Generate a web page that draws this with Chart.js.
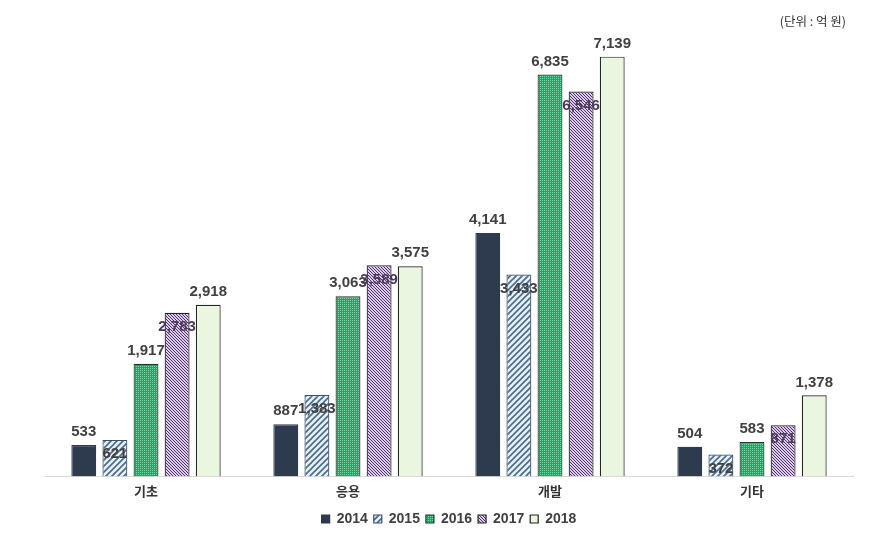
<!DOCTYPE html>
<html>
<head>
<meta charset="utf-8">
<script src="https://cdn.jsdelivr.net/npm/chart.js@4"></script>
<style>
    html, body { margin: 0; padding: 0; background: #fff; }
    #wrap { position: relative; width: 870px; height: 536px; }
    #unit {
        position: absolute; right: 24px; top: 11px;
        font: 12.5px "Noto Sans CJK KR", sans-serif; color: #333;
    }
</style>
</head>
<body>
<div id="wrap">
    <canvas id="rdChart" width="870" height="536"></canvas>
    <div id="unit">(단위 : 억 원)</div>
</div>
<script>
// Data (단위: 억 원)
const categories = ['기초', '응용', '개발', '기타'];
const years = ['2014', '2015', '2016', '2017', '2018'];
const v2014 = [533, 887, 4141, 504];
const v2015 = [621, 1383, 3433, 372];
const v2016 = [1917, 3063, 6835, 583];
const v2017 = [2783, 3589, 6546, 871];
const v2018 = [2918, 3575, 7139, 1378];

// Pattern helpers
function makePattern(w, h, draw) {
    const c = document.createElement('canvas');
    c.width = w;
    c.height = h;
    const g = c.getContext('2d');
    draw(g);
    return c.getContext('2d').createPattern(c, 'repeat');
}

const hatchBlue = makePattern(6, 6, g => {
    g.fillStyle = '#e4f1fa';
    g.fillRect(0, 0, 6, 6);
    g.strokeStyle = '#4b6a88';
    g.lineWidth = 1.6;
    g.beginPath();
    g.moveTo(-1, 7); g.lineTo(7, -1);
    g.moveTo(-4, 4); g.lineTo(4, -4);
    g.moveTo(2, 10); g.lineTo(10, 2);
    g.stroke();
});

const dotGreen = makePattern(2, 2, g => {
    g.fillStyle = '#1fa565';
    g.fillRect(0, 0, 2, 2);
    g.fillStyle = '#7cd6a6';
    g.fillRect(0, 0, 1, 1);
});

const hatchPurple = makePattern(3, 3, g => {
    g.fillStyle = '#dccbe9';
    g.fillRect(0, 0, 3, 3);
    g.fillStyle = '#4e3468';
    g.fillRect(0, 0, 1, 1);
    g.fillRect(1, 1, 1, 1);
    g.fillRect(2, 2, 1, 1);
});

const fills = ['#2e3a4d', hatchBlue, dotGreen, hatchPurple, '#eaf6e0'];
const borders = ['#2e3a4d', '#3d4f63', '#1e3a2c', '#222', '#222'];
const series = [v2014, v2015, v2016, v2017, v2018];

// value labels: 2015 / 2017 sit just inside the bar top, others above
const valueLabels = {
    id: 'valueLabels',
    afterDatasetsDraw(chart) {
        const ctx = chart.ctx;
        ctx.save();
        ctx.font = 'bold 15px "Liberation Sans", Arial, sans-serif';
        ctx.textAlign = 'center';
        ctx.textBaseline = 'middle';
        chart.data.datasets.forEach((ds, i) => {
            const meta = chart.getDatasetMeta(i);
            meta.data.forEach((bar, j) => {
                const inside = (i === 1 || i === 3);
                const y = inside ? bar.y + 14 : bar.y - 13;
                ctx.fillStyle = i === 3 ? '#4a3a58' : '#404040';
                ctx.fillText(ds.data[j].toLocaleString('en-US'), bar.x, y);
            });
        });
        ctx.restore();
    }
};

const ctx = document.getElementById('rdChart').getContext('2d');
const rdChart = new Chart(ctx, {
    type: 'bar',
    data: {
        labels: categories,
        datasets: years.map((y, i) => ({
            label: y,
            data: series[i],
            backgroundColor: fills[i],
            borderColor: borders[i],
            borderWidth: 1.2,
            categoryPercentage: 0.77,
            barPercentage: 0.8
        }))
    },
    options: {
        responsive: false,
        animation: false,
        layout: {
            padding: { left: 45, right: 17, top: 6, bottom: 0 }
        },
        scales: {
            y: {
                display: false,
                min: 0,
                max: 8000
            },
            x: {
                grid: { display: false, drawTicks: false },
                border: { color: '#d9d9d9', width: 1 },
                ticks: {
                    color: '#333',
                    padding: 7,
                    font: { family: '"Noto Sans CJK KR", sans-serif', size: 13, weight: 'bold' }
                }
            }
        },
        plugins: {
            legend: {
                position: 'bottom',
                labels: {
                    boxWidth: 8,
                    boxHeight: 8,
                    padding: 6,
                    color: '#404040',
                    font: { family: '"Liberation Sans", Arial, sans-serif', size: 14, weight: 'bold' }
                }
            },
            tooltip: { enabled: false }
        }
    },
    plugins: [valueLabels]
});
</script>
</body>
</html>
